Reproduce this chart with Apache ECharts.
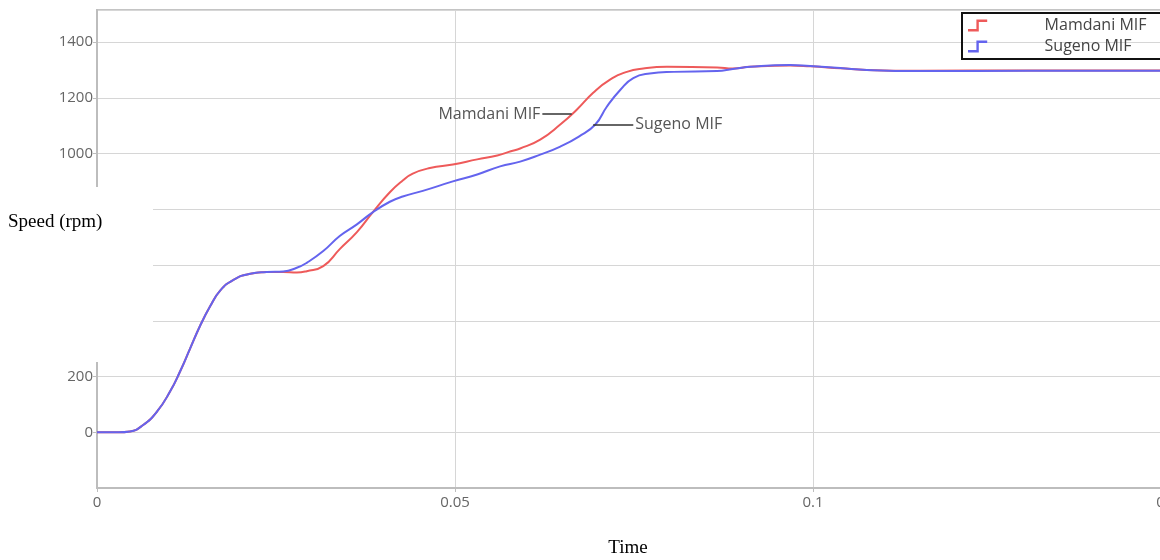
<!DOCTYPE html>
<html>
<head>
<meta charset="utf-8">
<script src="https://cdn.jsdelivr.net/npm/echarts@6/dist/echarts.min.js"></script>
<style>
  html, body { margin: 0; padding: 0; background: #fff; overflow: hidden; }
  #chart { width: 1160px; height: 560px; }
</style>
</head>
<body>
<div id="chart"></div>
<script>
// time (s) and speed (rpm)
const mamdaniTime = [0, 0.003, 0.0046, 0.0064, 0.0084, 0.0102, 0.0116, 0.013, 0.0144, 0.0158, 0.0172, 0.019, 0.0214, 0.0237, 0.026, 0.0279, 0.0293, 0.0316, 0.0339, 0.0363, 0.0385, 0.0409, 0.0427, 0.0441, 0.0465, 0.0497, 0.0531, 0.0559, 0.0578, 0.0591, 0.0619, 0.0647, 0.067, 0.0693, 0.0716, 0.074, 0.0763, 0.0796, 0.0866, 0.0888, 0.0912, 0.0968, 0.0996, 0.1038, 0.1075, 0.1149, 0.13, 0.1485]
const mamdaniSpeed = [0, 0, 3, 25, 75, 146, 218, 300, 382, 452, 508, 546, 569, 575, 575, 573, 578, 596, 657, 718, 789, 861, 903, 928, 948, 961, 979, 993, 1008, 1018, 1050, 1104, 1157, 1218, 1264, 1293, 1305, 1311, 1309, 1305, 1311, 1316, 1313, 1306, 1300, 1297, 1298, 1298]

const sugenoTime = [0, 0.003, 0.0046, 0.0064, 0.0084, 0.0102, 0.0116, 0.013, 0.0144, 0.0158, 0.0172, 0.019, 0.0214, 0.0237, 0.026, 0.0279, 0.0293, 0.0316, 0.0339, 0.0363, 0.0385, 0.0409, 0.0427, 0.0455, 0.0497, 0.0531, 0.0563, 0.0591, 0.0619, 0.0647, 0.0673, 0.0696, 0.0712, 0.0731, 0.0749, 0.0772, 0.0805, 0.0866, 0.0888, 0.0912, 0.0968, 0.0996, 0.1038, 0.1075, 0.1149, 0.13, 0.1485]
const sugenoSpeed = [0, 0, 3, 25, 75, 146, 218, 300, 382, 452, 508, 546, 569, 575, 577, 590, 608, 650, 704, 746, 789, 827, 846, 866, 900, 925, 954, 971, 996, 1025, 1061, 1104, 1168, 1229, 1271, 1287, 1293, 1296, 1303, 1311, 1318, 1314, 1307, 1300, 1296, 1297, 1297]

const seriesNames = ['Mamdani MIF', 'Sugeno MIF']
const seriesColors = ['#ee5a5a', '#6464ee']

// where the callout lines start/end [time, speed]
const mamdaniCallout = [[0.0663, 1141], [0.0622, 1141]]
const sugenoCallout = [[0.0693, 1104], [0.0749, 1104]]

const pairs = (t, v) => t.map((x, i) => [x, v[i]])

const chart = echarts.init(document.getElementById('chart'))

const stepIcon = 'path://M0,9 L7,9 L7,1 L16,1 L16,3 L9,3 L9,11 L0,11 Z'

const calloutLabel = {
  show: true,
  position: 'end',
  distance: 2,
  color: '#555',
  fontSize: 16,
  fontFamily: 'Open Sans'
}

const option = {
  animation: false,
  grid: {
    left: 97,
    top: 10,
    right: -11, // runs past the right edge, like the cropped original
    bottom: 72,
    outerBoundsMode: 'none',
    show: true,
    borderColor: '#c4c4c4',
    borderWidth: 2
  },
  legend: {
    data: seriesNames.map(n => ({ name: n, icon: stepIcon })),
    orient: 'vertical',
    left: 962,
    top: 13,
    borderColor: '#111',
    borderWidth: 2,
    padding: [4, 30, 4, 6],
    itemGap: 4,
    itemWidth: 20,
    itemHeight: 12,
    textStyle: {
      color: '#444',
      fontSize: 16,
      fontFamily: 'Open Sans',
      padding: [0, 0, 0, 52],
      lineHeight: 17
    }
  },
  xAxis: {
    type: 'value',
    min: 0,
    max: 0.15,
    interval: 0.05,
    name: 'Time',
    nameLocation: 'middle',
    nameGap: 51,
    nameTextStyle: { fontFamily: 'Liberation Serif', fontSize: 19, color: '#000', padding: [0, 12, 0, 0] },
    axisLine: { show: true, onZero: false, lineStyle: { color: '#bdbdbd', width: 2 } },
    axisTick: { show: true, length: 4, lineStyle: { color: '#bdbdbd' } },
    axisLabel: { color: '#666', fontSize: 15, fontFamily: 'Open Sans', margin: 7 },
    splitLine: { show: true, lineStyle: { color: '#d6d6d6', width: 1 } }
  },
  yAxis: {
    type: 'value',
    min: -200,
    max: 1515,
    interval: 200,
    axisLine: { show: true, onZero: false, lineStyle: { color: '#bdbdbd', width: 2 } },
    axisTick: { show: true, length: 4, lineStyle: { color: '#bdbdbd' } },
    axisLabel: {
      color: '#666', fontSize: 15, fontFamily: 'Open Sans', margin: 4,
      showMinLabel: false, showMaxLabel: false,
      formatter: v => String(v)
    },
    splitLine: { show: true, lineStyle: { color: '#d6d6d6', width: 1 } }
  },
  series: [
    {
      name: seriesNames[0],
      type: 'line',
      smooth: 0.5,
      showSymbol: false,
      data: pairs(mamdaniTime, mamdaniSpeed),
      color: seriesColors[0],
      lineStyle: { width: 2, color: seriesColors[0] },
      markLine: {
        silent: true,
        symbol: 'none',
        lineStyle: { color: '#333', width: 1.5, type: 'solid' },
        label: calloutLabel,
        data: [[{ coord: mamdaniCallout[0] }, { coord: mamdaniCallout[1], label: { formatter: 'Mamdani MIF' } }]]
      }
    },
    {
      name: seriesNames[1],
      type: 'line',
      smooth: 0.5,
      showSymbol: false,
      data: pairs(sugenoTime, sugenoSpeed),
      color: seriesColors[1],
      lineStyle: { width: 2, color: seriesColors[1] },
      markLine: {
        silent: true,
        symbol: 'none',
        lineStyle: { color: '#333', width: 1.5, type: 'solid' },
        label: calloutLabel,
        data: [[{ coord: sugenoCallout[0] }, { coord: sugenoCallout[1], label: { formatter: 'Sugeno MIF' } }]]
      }
    }
  ],
  graphic: [
    // the pasted-over patch hiding part of the y axis
    {
      type: 'rect',
      left: 0,
      top: 187,
      z: 100,
      shape: { width: 153, height: 175 },
      style: { fill: '#fff' }
    },
    {
      type: 'text',
      left: 8,
      top: 213,
      z: 101,
      style: { text: 'Speed (rpm)', fill: '#000', font: '19px "Liberation Serif"' }
    }
  ]
}

chart.setOption(option)
</script>
</body>
</html>
